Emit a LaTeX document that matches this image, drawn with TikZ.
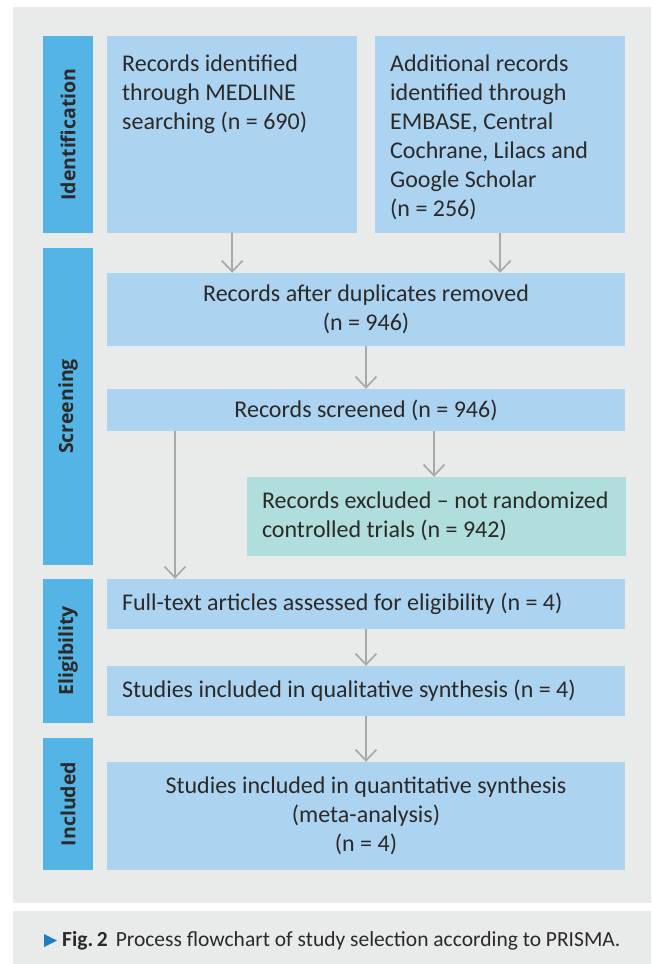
\documentclass[tikz,border=0pt]{standalone}
\usepackage{fontspec}
\setmainfont{Carlito}
\newfontfamily\labfont{Open Sans}
\usetikzlibrary{arrows.meta}
\definecolor{bggray}{HTML}{E9EBEB}
\definecolor{barblue}{HTML}{54B4E6}
\definecolor{boxblue}{HTML}{ACD3F0}
\definecolor{boxteal}{HTML}{B0DEDC}
\definecolor{arrgray}{HTML}{A9A9A9}
\definecolor{txtcol}{HTML}{2B2A29}
\definecolor{capblue}{HTML}{1B80C3}
\tikzset{
  sidebar/.style={fill=barblue, draw=none, rotate=90, inner sep=0pt, text=txtcol,
    font=\labfont\bfseries\fontsize{19.5}{23}\selectfont},
  lbox/.style={fill=boxblue, draw=none, inner sep=0pt, text=txtcol,
    font=\fontsize{24}{29}\selectfont},
  tbox/.style={fill=boxteal, draw=none, inner sep=0pt, text=txtcol,
    font=\fontsize{24}{29}\selectfont},
  boxtext/.style={inner sep=0pt, text=txtcol, align=left,
    font=\fontsize{24}{29}\selectfont},
  arr/.style={draw=arrgray, line width=1.7pt,
    -{Straight Barb[length=11pt,width=21pt,line width=1.7pt]}},
}
\begin{document}
\begin{tikzpicture}[x=1pt,y=-1pt]
\useasboundingbox (0,0) rectangle (651,964);
\fill[white] (0,0) rectangle (651,964);
\fill[bggray] (13,7) rectangle (651,903);
\fill[bggray] (13,911) rectangle (651,964);

% side bars
\node[sidebar, minimum width=197pt, minimum height=50pt] (s1) at (68,134.5) {Identification};
\node[sidebar, minimum width=317pt, minimum height=50pt] (s2) at (68,406.5) {Screening};
\node[sidebar, minimum width=144pt, minimum height=50pt] (s3) at (68,651) {Eligibility};
\node[sidebar, minimum width=132pt, minimum height=50pt] (s4) at (68,804) {Included};

% boxes
\node[lbox, anchor=north west, minimum width=250pt, minimum height=197pt] (b1) at (107,36) {};
\node[boxtext, anchor=north west] (t1) at ([xshift=15pt,yshift=-18.5pt]b1.north west)
  {Records identified\\through MEDLINE\\searching (n = 690)};
\node[lbox, anchor=north west, minimum width=250pt, minimum height=197pt] (b2) at (375,36) {};
\node[boxtext, anchor=north west] (t2) at ([xshift=15pt,yshift=-18.5pt]b2.north west)
  {Additional records\\identified through\\EMBASE, Central\\Cochrane, Lilacs and\\Google Scholar\\(n = 256)};

\node[lbox, minimum width=518pt, minimum height=73pt, align=center] (dup) at (366,309.5)
  {Records after duplicates removed\\(n = 946)};
\node[lbox, minimum width=518pt, minimum height=42pt, align=center] (scr) at (366,410)
  {Records screened (n = 946)};
\node[tbox, minimum width=379pt, minimum height=79pt] (exc) at (436.5,516.5) {};
\node[boxtext, anchor=west] (t3) at ([xshift=15pt]exc.west)
  {Records excluded -- not randomized\\controlled trials (n = 942)};
\node[lbox, minimum width=518pt, minimum height=50pt] (full) at (366,604) {};
\node[boxtext, anchor=west] (t4) at ([xshift=15pt]full.west)
  {Full-text articles assessed for eligibility (n = 4)};
\node[lbox, minimum width=518pt, minimum height=50pt] (qual) at (366,691) {};
\node[boxtext, anchor=west] (t5) at ([xshift=15pt]qual.west)
  {Studies included in qualitative synthesis (n = 4)};
\node[lbox, minimum width=518pt, minimum height=108pt, align=center] (quant) at (366,816)
  {Studies included in quantitative synthesis\\(meta-analysis)\\(n = 4)};

% arrows
\coordinate (lx) at (175,0);
\draw[arr] (b1.south) -- (b1.south |- dup.north);
\draw[arr] (b2.south) -- (b2.south |- dup.north);
\draw[arr] (dup.south) -- (scr.north);
\draw[arr] ([xshift=-2.5pt]scr.south -| exc.north) -- ([xshift=-2.5pt]exc.north);
\draw[arr] (scr.south -| lx) -- (full.north -| lx);
\draw[arr] (full.south) -- (qual.north);
\draw[arr] (qual.south) -- (quant.north);

% caption
\fill[capblue] (44,934) -- (57,940.5) -- (44,947) -- cycle;
\node[inner sep=0pt, anchor=base west, text=txtcol, font=\fontsize{21.5}{26}\selectfont] (cap) at (62,946)
  {\textbf{Fig.\,2}\hspace{8pt}Process flowchart of study selection according to PRISMA.};
\end{tikzpicture}
\end{document}
